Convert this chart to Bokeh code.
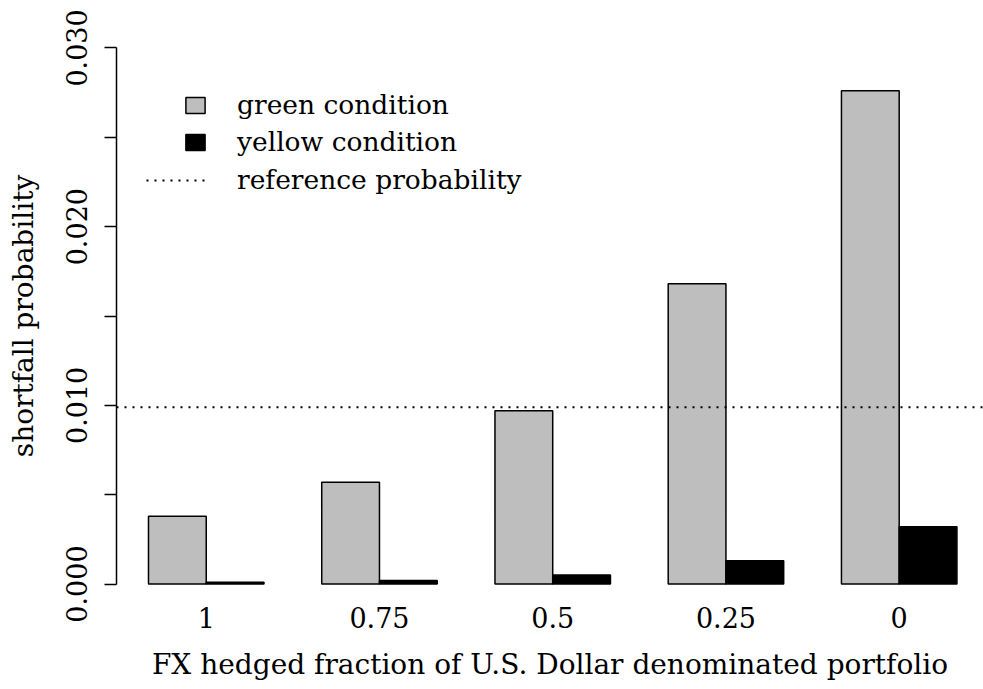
from bokeh.plotting import figure
from bokeh.models import (Range1d, FixedTicker, LinearAxis, Legend, LegendItem,
                          ColumnDataSource)
from bokeh.embed import file_html
from bokeh.resources import INLINE

# ---- data ----
fractions = ["1", "0.75", "0.5", "0.25", "0"]
green = [0.0038, 0.0057, 0.0097, 0.0168, 0.0276]
yellow = [0.0001, 0.0002, 0.0005, 0.0013, 0.0032]
reference_probability = 0.0099
y_ticks = [0.0, 0.005, 0.010, 0.015, 0.020, 0.025, 0.030]
y_tick_labels = ["0.000", "", "0.010", "", "0.020", "", "0.030"]

FONT = "DejaVu Serif"
FS = "27px"

# R barplot(beside=TRUE) layout: bar width 1, one-bar gap between groups
n = len(fractions)
green_x = [1.5 + 3 * i for i in range(n)]
yellow_x = [2.5 + 3 * i for i in range(n)]
group_x = [2.0 + 3 * i for i in range(n)]

X0, X1 = 0.446, 15.46
p = figure(frame_width=867, frame_height=579, output_backend="svg",
           toolbar_location=None,
           x_range=Range1d(X0, X1), y_range=Range1d(-0.0012, 0.0312),
           min_border_left=116, min_border_right=0, min_border_top=26,
           min_border_bottom=84, x_axis_location=None, y_axis_location=None)
p.outline_line_color = None
p.xgrid.visible = False
p.ygrid.visible = False
p.background_fill_color = "white"
p.border_fill_color = "white"

gsrc = ColumnDataSource(dict(x=green_x, top=green))
ysrc = ColumnDataSource(dict(x=yellow_x, top=yellow))
rg = p.vbar(x="x", top="top", bottom=0, width=1.0, source=gsrc,
            fill_color="#BEBEBE", line_color="black", line_width=1.5)
ry = p.vbar(x="x", top="top", bottom=0, width=1.0, source=ysrc,
            fill_color="black", line_color="black", line_width=1.5)

# horizontal reference line across the whole plot region
rl = p.line(x=[X0, X1], y=[reference_probability, reference_probability],
            line_color="black", line_width=2, line_dash="2 6")

# y axis
yaxis = LinearAxis(ticker=FixedTicker(ticks=y_ticks), bounds=(0, 0.03),
                   axis_label="shortfall probability")
yaxis.major_label_overrides = {t: l for t, l in zip(y_ticks, y_tick_labels)}
yaxis.major_label_orientation = "vertical"
yaxis.major_tick_out = 12
yaxis.major_tick_in = 0
yaxis.minor_tick_out = 0
yaxis.minor_tick_in = 0
yaxis.axis_line_width = 1.5
yaxis.major_tick_line_width = 1.5
yaxis.major_label_standoff = 17
yaxis.axis_label_standoff = 24
p.add_layout(yaxis, "left")

# x axis (labels only, as in R barplot)
xaxis = LinearAxis(ticker=FixedTicker(ticks=group_x),
                   axis_label="FX hedged fraction of U.S. Dollar denominated portfolio")
xaxis.major_label_overrides = {gx: f for gx, f in zip(group_x, fractions)}
xaxis.axis_line_color = None
xaxis.major_tick_line_color = None
xaxis.minor_tick_line_color = None
xaxis.major_tick_out = 0
xaxis.major_tick_in = 0
xaxis.major_label_standoff = 1
xaxis.axis_label_standoff = 17
p.add_layout(xaxis, "below")

for ax in (xaxis, yaxis):
    ax.major_label_text_font = FONT
    ax.major_label_text_font_size = FS
    ax.major_label_text_color = "black"
    ax.axis_label_text_font = FONT
    ax.axis_label_text_font_size = "28px"
    ax.axis_label_text_font_style = "normal"
    ax.axis_label_text_color = "black"


def make_legend(label, renderer, loc, gw, standoff):
    lg = Legend(items=[LegendItem(label=label, renderers=[renderer])],
                location=loc, orientation="vertical",
                glyph_width=gw, glyph_height=20, label_standoff=standoff,
                padding=0, margin=0, spacing=0,
                border_line_color=None, background_fill_alpha=0,
                label_text_font=FONT, label_text_font_size="26.5px",
                label_text_color="black", label_height=20)
    p.add_layout(lg, "center")


make_legend("green condition", rg, (67, 485), 24, 30)
make_legend("yellow condition", ry, (67, 448), 24, 30)
make_legend("reference probability", rl, (30, 410), 59, 32)

open("out.html", "w").write(file_html(p, INLINE))
